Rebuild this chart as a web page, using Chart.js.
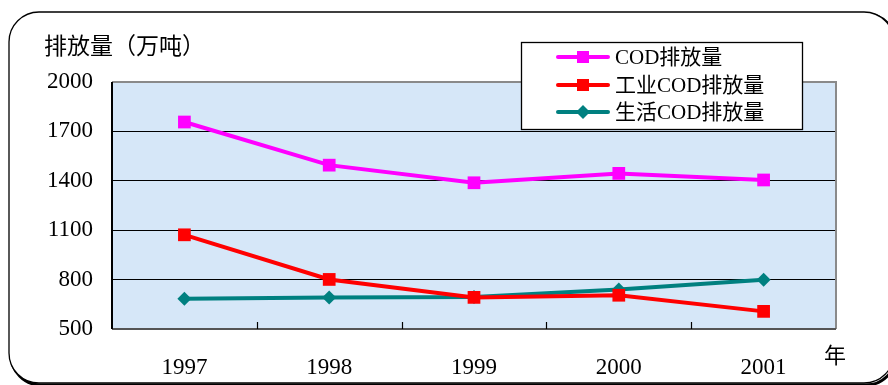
<!DOCTYPE html>
<html>
<head>
<meta charset="utf-8">
<script src="https://cdn.jsdelivr.net/npm/chart.js@4.4.1/dist/chart.umd.min.js"></script>
<style>
  html, body { margin: 0; padding: 0; background: #ffffff; }
  #wrap { width: 888px; height: 385px; position: relative; }
</style>
</head>
<body>
<div id="wrap"><canvas id="c" width="888" height="385"></canvas></div>
<script>
// 1997–2001 COD emissions (10k tonnes)
const years = ['1997', '1998', '1999', '2000', '2001'];
const totalCOD = [1757, 1495, 1388, 1445, 1405];
const industrialCOD = [1072, 801, 692, 705, 607];
const domesticCOD = [683, 692, 694, 740, 799];
const yTicks = [500, 800, 1100, 1400, 1700, 2000];

const seriesNames = ['COD排放量', '工业COD排放量', '生活COD排放量'];
const serif = '"Liberation Serif", "DejaVu Serif", serif';
const cjk = '"Noto Sans CJK SC", "Noto Sans", sans-serif';
const mixed = '"Liberation Serif", "Noto Sans CJK SC", serif';

const decor = {
  id: 'decor',
  beforeDraw(chart) {
    const { ctx, chartArea: a } = chart;
    ctx.save();
    // rounded outer frame with a slight drop shadow
    ctx.strokeStyle = '#000';
    ctx.lineWidth = 3;
    ctx.beginPath();
    ctx.roundRect(11, 14, 885, 371, 30);
    ctx.stroke();
    ctx.fillStyle = '#fff';
    ctx.beginPath();
    ctx.roundRect(9, 12, 885, 371, 30);
    ctx.fill();
    ctx.lineWidth = 1.3;
    ctx.stroke();
    // plot background
    ctx.fillStyle = '#d6e7f8';
    ctx.fillRect(a.left, a.top, a.right - a.left, a.bottom - a.top);
    ctx.restore();
  },
  afterDatasetsDraw(chart) {
    const { ctx, chartArea: a, scales } = chart;
    ctx.save();
    // plot frame
    ctx.lineWidth = 2;
    ctx.strokeStyle = '#8a8a8a';
    ctx.beginPath();
    ctx.moveTo(a.left, a.top); ctx.lineTo(a.right, a.top); ctx.lineTo(a.right, a.bottom);
    ctx.stroke();
    ctx.strokeStyle = '#555';
    ctx.beginPath();
    ctx.moveTo(a.left, a.bottom); ctx.lineTo(a.right, a.bottom);
    ctx.stroke();
    ctx.strokeStyle = '#000';
    ctx.beginPath();
    ctx.moveTo(a.left, a.top); ctx.lineTo(a.left, a.bottom);
    ctx.stroke();
    // inner tick marks between categories
    const x = scales.x;
    const half = (x.getPixelForValue(1) - x.getPixelForValue(0)) / 2;
    ctx.lineWidth = 1.2;
    ctx.strokeStyle = '#000';
    for (let i = 0; i < years.length - 1; i++) {
      const px = Math.round(x.getPixelForValue(i) + half) + 0.5;
      ctx.beginPath();
      ctx.moveTo(px, a.bottom - 7); ctx.lineTo(px, a.bottom);
      ctx.stroke();
    }
    // axis captions
    ctx.fillStyle = '#000';
    ctx.textBaseline = 'middle';
    ctx.textAlign = 'left';
    ctx.font = '23px ' + cjk;
    ctx.fillText('排放量（万吨）', 44, 45);
    ctx.font = '22px ' + cjk;
    ctx.fillText('年', 824, 355);
    // legend
    const L = { x: 521, y: 42, w: 281, h: 87 };
    ctx.fillStyle = '#fff';
    ctx.fillRect(L.x, L.y, L.w, L.h);
    ctx.lineWidth = 1.3;
    ctx.strokeStyle = '#000';
    ctx.strokeRect(L.x + 0.5, L.y + 0.5, L.w, L.h);
    const rows = [57, 85, 112];
    chart.data.datasets.forEach((ds, i) => {
      const y = rows[i];
      ctx.strokeStyle = ds.borderColor;
      ctx.lineWidth = 4;
      ctx.lineCap = 'round';
      ctx.beginPath();
      ctx.moveTo(558, y); ctx.lineTo(608, y);
      ctx.stroke();
      ctx.fillStyle = ds.pointBackgroundColor;
      if (ds.pointStyle === 'rectRot') {
        ctx.beginPath();
        ctx.moveTo(583, y - 7); ctx.lineTo(590, y); ctx.lineTo(583, y + 7); ctx.lineTo(576, y);
        ctx.closePath();
        ctx.fill();
      } else {
        ctx.fillRect(577, y - 6, 12, 12);
      }
      ctx.fillStyle = '#000';
      ctx.font = '21px ' + mixed;
      ctx.textAlign = 'left';
      ctx.fillText(ds.label, 615, y + 1);
    });
    ctx.restore();
  }
};

new Chart(document.getElementById('c'), {
  type: 'line',
  data: {
    labels: years,
    datasets: [
      { label: seriesNames[0], data: totalCOD, borderColor: '#ff00ff', backgroundColor: '#ff00ff',
        pointBackgroundColor: '#ff00ff', pointBorderColor: '#ff00ff', pointStyle: 'rect',
        pointRadius: 9, borderWidth: 4, pointBorderWidth: 0 },
      { label: seriesNames[1], data: industrialCOD, borderColor: '#ff0000', backgroundColor: '#ff0000',
        pointBackgroundColor: '#ff0000', pointBorderColor: '#ff0000', pointStyle: 'rect',
        pointRadius: 9, borderWidth: 4, pointBorderWidth: 0 },
      { label: seriesNames[2], data: domesticCOD, borderColor: '#008080', backgroundColor: '#008080',
        pointBackgroundColor: '#008080', pointBorderColor: '#008080', pointStyle: 'rectRot',
        pointRadius: 7, borderWidth: 4, pointBorderWidth: 0 }
    ]
  },
  options: {
    responsive: false,
    animation: false,
    layout: { padding: { top: 82, right: 52, left: 0, bottom: 0 } },
    plugins: { legend: { display: false }, tooltip: { enabled: false } },
    elements: { line: { tension: 0 } },
    scales: {
      x: {
        type: 'category',
        offset: true,
        grid: { display: false },
        border: { display: false },
        ticks: { color: '#000', font: { family: serif, size: 23 }, padding: 17, maxRotation: 0 },
        afterFit(s) { s.height = 56; }
      },
      y: {
        min: 500, max: 2000,
        afterBuildTicks(s) { s.ticks = yTicks.map(v => ({ value: v })); },
        grid: { color: '#000', lineWidth: 1, drawTicks: false },
        border: { display: false },
        ticks: { color: '#000', font: { family: serif, size: 23 }, padding: 19,
                 callback: v => String(v) },
        afterFit(s) { s.width = 112; }
      }
    }
  },
  plugins: [decor]
});
</script>
</body>
</html>
